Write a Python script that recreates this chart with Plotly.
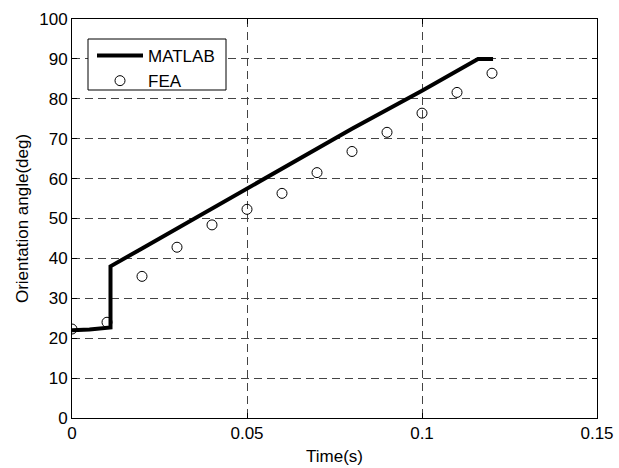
import plotly.graph_objects as go

# MATLAB model curve
matlab_t = [0.0, 0.005, 0.011, 0.011, 0.02, 0.05, 0.08, 0.1, 0.116, 0.1203]
matlab_deg = [22.0, 22.2, 22.7, 38.0, 42.5, 57.5, 72.5, 82.0, 90.0, 90.0]

# FEA results
fea_t = [0.0, 0.01, 0.02, 0.03, 0.04, 0.05, 0.06, 0.07, 0.08, 0.09, 0.1, 0.11, 0.12]
fea_deg = [22.3, 24.0, 35.5, 42.8, 48.4, 52.3, 56.3, 61.5, 66.8, 71.6, 76.4, 81.6, 86.4]

x_ticks = [0, 0.05, 0.1, 0.15]
x_tick_text = ["0", "0.05", "0.1", "0.15"]
y_ticks = [0, 10, 20, 30, 40, 50, 60, 70, 80, 90, 100]

FONT = "Liberation Sans, Arial, sans-serif"
W, H = 619, 468
ML, MR, MT, MB = 72, 22, 19, 50
PW, PH = W - ML - MR, H - MT - MB


def px_x(p):
    return (p - ML) / PW


def px_y(p):
    return (H - MB - p) / PH


fig = go.Figure()
fig.add_trace(go.Scatter(x=matlab_t, y=matlab_deg, mode="lines", name="MATLAB",
                         line=dict(color="black", width=4)))
fig.add_trace(go.Scatter(x=fea_t, y=fea_deg, mode="markers", name="FEA",
                         marker=dict(symbol="circle-open", size=10, color="black",
                                     line=dict(width=1, color="black"))))

axis_common = dict(showline=True, linecolor="black", linewidth=1, mirror="allticks",
                   ticks="inside", ticklen=5, tickcolor="black",
                   showgrid=True, gridcolor="#444444", griddash="8px,5px", gridwidth=1,
                   zeroline=False, automargin=False,
                   tickfont=dict(family=FONT, size=17, color="black"))

fig.update_xaxes(range=[0, 0.15], tickvals=x_ticks, ticktext=x_tick_text,
                 title=dict(text="Time(s)", font=dict(family=FONT, size=17, color="black"), standoff=7),
                 **axis_common)
fig.update_yaxes(range=[0, 100], tickvals=y_ticks,
                 title=dict(text="Orientation angle(deg)", font=dict(family=FONT, size=17, color="black"), standoff=6),
                 **axis_common)

# legend frame
fig.add_shape(type="rect", xref="paper", yref="paper",
              x0=px_x(88), x1=px_x(226), y0=px_y(90), y1=px_y(39),
              line=dict(color="black", width=1), fillcolor="white", layer="above")

fig.update_layout(
    width=W, height=H,
    margin=dict(l=ML, r=MR, t=MT, b=MB),
    paper_bgcolor="white", plot_bgcolor="white",
    font=dict(family=FONT, size=17, color="black"),
    legend=dict(x=px_x(92), y=px_y(38), xanchor="left", yanchor="top",
                borderwidth=0, bgcolor="rgba(0,0,0,0)", itemwidth=46,
                font=dict(family=FONT, size=17), tracegroupgap=0),
)

fig.write_html("out.html")
